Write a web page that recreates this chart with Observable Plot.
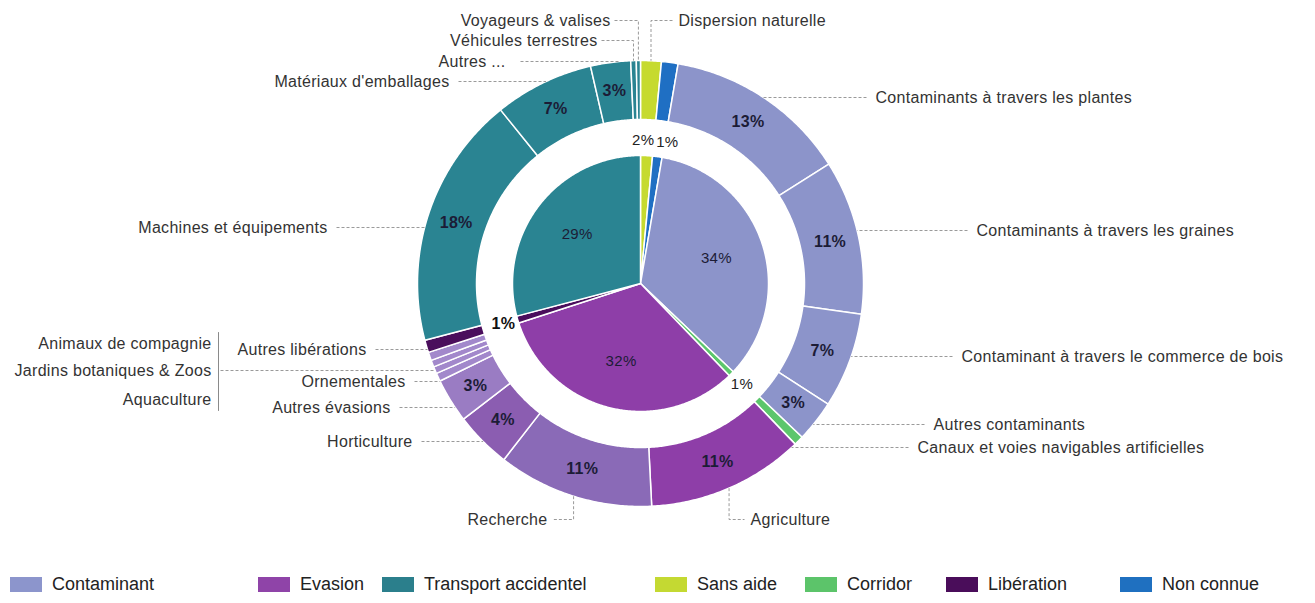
<!DOCTYPE html>
<html><head><meta charset="utf-8">
<script src="https://cdn.jsdelivr.net/npm/d3@7"></script>
<script src="https://cdn.jsdelivr.net/npm/@observablehq/plot@0.6"></script>
<style>
body{margin:0;background:#fff;font-family:"Liberation Sans",Arial,sans-serif;}
#chart svg{display:block;}
#chart svg text{letter-spacing:0.3px;}
#legend{position:relative;height:43px;width:1315px;}
.li{position:absolute;top:14px;display:flex;align-items:center;font-size:18px;color:#222;white-space:nowrap;}
.sw{width:32px;height:15px;margin-right:10px;}
</style></head><body><div id="chart"></div><div id="legend"></div>
<script>
// ---------- DATA ----------
const categories = ["Sans aide","Non connue","Contaminant","Corridor","Evasion","Libération","Transport accidentel"];
const categoryValues = [1.5, 1.2, 34.4, 0.7, 32.2, 0.9, 29.1];
const legendOrder = ["Contaminant","Evasion","Transport accidentel","Sans aide","Corridor","Libération","Non connue"];

const subNames = ["Dispersion naturelle","Non connue","Contaminants à travers les plantes","Contaminants à travers les graines",
  "Contaminant à travers le commerce de bois","Autres contaminants","Canaux et voies navigables artificielles",
  "Agriculture","Recherche","Horticulture","Autres évasions","Ornementales","Aquaculture","Jardins botaniques & Zoos",
  "Animaux de compagnie","Autres libérations","Machines et équipements","Matériaux d'emballages","Autres ...",
  "Véhicules terrestres","Voyageurs & valises"];
const subCategory = ["Sans aide","Non connue","Contaminant","Contaminant","Contaminant","Contaminant","Corridor",
  "Evasion","Evasion","Evasion","Evasion","Evasion","Evasion","Evasion","Evasion","Libération",
  "Transport accidentel","Transport accidentel","Transport accidentel","Transport accidentel","Transport accidentel"];
const subValues = [1.5, 1.2, 13.3, 11.2, 6.9, 3.0, 0.7, 11.4, 11.3, 4.1, 3.2, 0.6, 0.5, 0.5, 0.6, 0.9, 18.3, 7.2, 2.9, 0.4, 0.3];

// ---------- STYLE / LAYOUT ----------
const catColor = {"Sans aide":"#c6da2f","Non connue":"#1f6fc3","Contaminant":"#8c94ca","Corridor":"#5cc66c",
  "Evasion":"#8e3ea8","Libération":"#4a0e5c","Transport accidentel":"#2a8492"};
const subColorOverride = {"Recherche":"#8a6ab7","Horticulture":"#8b5db1","Autres évasions":"#9a7cc3",
  "Ornementales":"#a288cb","Aquaculture":"#a288cb","Jardins botaniques & Zoos":"#a288cb","Animaux de compagnie":"#a288cb"};
const legendColor = {"Contaminant":"#8c95cc","Evasion":"#8f44a8","Transport accidentel":"#2b7f8c","Sans aide":"#c4d932",
  "Corridor":"#5cc46a","Libération":"#4a0d5a","Non connue":"#1f70c0"};
const legendLeft = [10, 258, 382, 655, 805, 946, 1120];

const W = 1315, H = 560, CX = 640, CY = 283;
const R_PIE = 128, R_IN = 164, R_OUT = 223, R_LAB_OUT = 194, R_LAB_IN = 80, R_LAB_SMALL = 143;
const smallInnerDx = {"Sans aide": -4, "Non connue": 8};

const leaderLayout = [
 {name:"Voyageurs & valises", lx:610, ly:20, anchor:"end", kind:"top"},
 {name:"Véhicules terrestres", lx:597, ly:40, anchor:"end", kind:"top"},
 {name:"Autres ...", lx:505, ly:61, anchor:"end", kind:"side", gap:15},
 {name:"Matériaux d'emballages", lx:449, ly:81, anchor:"end", kind:"side"},
 {name:"Dispersion naturelle", lx:678, ly:20, anchor:"start", kind:"top"},
 {name:"Contaminants à travers les plantes", lx:875, ly:97, anchor:"start", kind:"side"},
 {name:"Contaminants à travers les graines", lx:976, ly:230, anchor:"start", kind:"side"},
 {name:"Contaminant à travers le commerce de bois", lx:961, ly:356, anchor:"start", kind:"side"},
 {name:"Autres contaminants", lx:933, ly:424, anchor:"start", kind:"side"},
 {name:"Canaux et voies navigables artificielles", lx:917, ly:447, anchor:"start", kind:"side"},
 {name:"Agriculture", lx:750, ly:519, anchor:"start", kind:"bottom"},
 {name:"Recherche", lx:547, ly:519, anchor:"end", kind:"bottom"},
 {name:"Horticulture", lx:412, ly:441, anchor:"end", kind:"side"},
 {name:"Autres évasions", lx:390, ly:407, anchor:"end", kind:"side"},
 {name:"Ornementales", lx:405, ly:381, anchor:"end", kind:"side"},
 {name:"Autres libérations", lx:366, ly:349, anchor:"end", kind:"side"},
 {name:"Machines et équipements", lx:327, ly:227, anchor:"end", kind:"side"},
 {name:"Animaux de compagnie", lx:211, ly:343, anchor:"end", kind:"none"},
 {name:"Jardins botaniques & Zoos", lx:211, ly:370, anchor:"end", kind:"side", from:220},
 {name:"Aquaculture", lx:211, ly:399, anchor:"end", kind:"none"}
];
const bracketX = 218;

// ---------- GEOMETRY ----------
const rad = d => d * Math.PI / 180;
const px = X => X - CX, py = Y => CY - Y;   // pixel -> data coordinates
const polar = (a, r) => [r * Math.sin(rad(a)), r * Math.cos(rad(a))];

function slices(values, names) {
  const total = d3.sum(values);
  const ends = d3.cumsum(values);
  return values.map((v, i) => {
    const a1 = ends[i] / total * 360, a0 = (ends[i] - v) / total * 360;
    return {name: names[i], value: v, a0, a1, mid: (a0 + a1) / 2};
  });
}
function wedge(s, r0, r1, id, key) {
  const n = Math.max(2, Math.ceil((s.a1 - s.a0) / 0.5));
  const pts = [];
  for (let i = 0; i <= n; i++) pts.push(polar(s.a0 + (s.a1 - s.a0) * i / n, r1));
  if (r0 > 0) for (let i = n; i >= 0; i--) pts.push(polar(s.a0 + (s.a1 - s.a0) * i / n, r0));
  else pts.push([0, 0]);
  return pts.map(([x, y]) => ({x, y, id, key}));
}

const inner = slices(categoryValues, categories);
const outer = slices(subValues, subNames).map((s, i) => ({...s, cat: subCategory[i]}));

const colorKeys = [], colorRange = [];
inner.forEach(s => { colorKeys.push("c:" + s.name); colorRange.push(catColor[s.name]); });
outer.forEach(s => { colorKeys.push("s:" + s.name); colorRange.push(subColorOverride[s.name] || catColor[s.cat]); });

const polys = [
  ...inner.flatMap((s, i) => wedge(s, 0, R_PIE, "in" + i, "c:" + s.name)),
  ...outer.flatMap((s, i) => wedge(s, R_IN, R_OUT, "out" + i, "s:" + s.name))
];

// labels
const pct = v => Math.round(v) + "%";
const outerLabels = outer.filter(s => s.value >= 2.5).map(s => {
  const [x, y] = polar(s.mid, R_LAB_OUT); return {x, y, t: pct(s.value)};
});
const innerBig = inner.filter(s => s.value >= 5).map(s => {
  const [x, y] = polar(s.mid, R_LAB_IN); return {x, y, t: pct(s.value)};
});
const innerSmall = inner.filter(s => s.value < 5).map(s => {
  const [x, y] = polar(s.mid, R_LAB_SMALL);
  return {x: x + (smallInnerDx[s.name] || 0), y, t: pct(s.value), bold: s.name === "Libération"};
});

const outerByName = new Map(outer.map(s => [s.name, s]));
const leaderText = leaderLayout.map(l => ({x: px(l.lx), y: py(l.ly), t: l.name, anchor: l.anchor}));
const leaderLines = [];
leaderLayout.forEach((l, k) => {
  const s = outerByName.get(l.name);
  const id = "L" + k;
  const gap = l.gap || 9;
  if (l.kind === "side") {
    const dy = l.ly - CY;
    const ex = Math.sqrt(R_OUT * R_OUT - dy * dy);
    const edge = l.anchor === "end" ? CX - ex : CX + ex;
    const start = l.from != null ? l.from : (l.anchor === "end" ? l.lx + gap : l.lx - gap);
    leaderLines.push({x: px(start), y: py(l.ly), id}, {x: px(edge), y: py(l.ly), id});
  } else if (l.kind === "top") {
    const [sx, sy] = polar(s.mid, R_OUT);
    const start = l.anchor === "end" ? l.lx + 4 : l.lx - 6;
    leaderLines.push({x: px(start), y: py(l.ly), id}, {x: sx, y: py(l.ly), id}, {x: sx, y: sy, id});
  } else if (l.kind === "bottom") {
    const [sx, sy] = polar(s.mid, R_OUT);
    const end = l.anchor === "end" ? l.lx + 6 : l.lx - 6;
    leaderLines.push({x: sx, y: sy, id}, {x: sx, y: py(l.ly), id}, {x: px(end), y: py(l.ly), id});
  }
});
const groupLabels = leaderLayout.filter(l => l.lx === 211);
const bracket = [
  {x: px(bracketX), y: py(d3.min(groupLabels, l => l.ly) - 11)},
  {x: px(bracketX), y: py(d3.max(groupLabels, l => l.ly) + 11)}
];

// ---------- PLOT ----------
const chart = Plot.plot({
  width: W, height: H, margin: 0,
  x: {domain: [-CX, W - CX], axis: null},
  y: {domain: [CY - H, CY], axis: null},
  color: {type: "ordinal", domain: colorKeys, range: colorRange},
  style: {fontFamily: "'Liberation Sans', Arial, sans-serif", background: "#fff", overflow: "visible"},
  marks: [
    Plot.line(polys, {x: "x", y: "y", z: "id", fill: "key", stroke: "white", strokeWidth: 1.5, curve: "linear-closed"}),
    Plot.line(leaderLines, {x: "x", y: "y", z: "id", stroke: "#9a9a9a", strokeWidth: 1, strokeDasharray: "3,2", strokeLinecap: "butt"}),
    Plot.line(bracket, {x: "x", y: "y", stroke: "#8a8a8a", strokeWidth: 1}),
    Plot.text(leaderText.filter(d => d.anchor === "end"), {x: "x", y: "y", text: "t", textAnchor: "end", fontSize: 16, fill: "#333"}),
    Plot.text(leaderText.filter(d => d.anchor === "start"), {x: "x", y: "y", text: "t", textAnchor: "start", fontSize: 16, fill: "#333"}),
    Plot.text(outerLabels, {x: "x", y: "y", text: "t", fontSize: 16, fontWeight: "bold", fill: "#1c1c36"}),
    Plot.text(innerBig, {x: "x", y: "y", text: "t", fontSize: 15, fill: "#1c1c36"}),
    Plot.text(innerSmall.filter(d => !d.bold), {x: "x", y: "y", text: "t", fontSize: 15, fill: "#222"}),
    Plot.text(innerSmall.filter(d => d.bold), {x: "x", y: "y", text: "t", fontSize: 16, fontWeight: "bold", fill: "#111"})
  ]
});
document.getElementById("chart").appendChild(chart);

// legend (below the SVG)
const leg = document.getElementById("legend");
legendOrder.forEach((c, i) => {
  const item = document.createElement("div");
  item.className = "li";
  item.style.left = legendLeft[i] + "px";
  item.innerHTML = `<span class="sw" style="background:${legendColor[c]}"></span><span>${c}</span>`;
  leg.appendChild(item);
});
</script></body></html>
